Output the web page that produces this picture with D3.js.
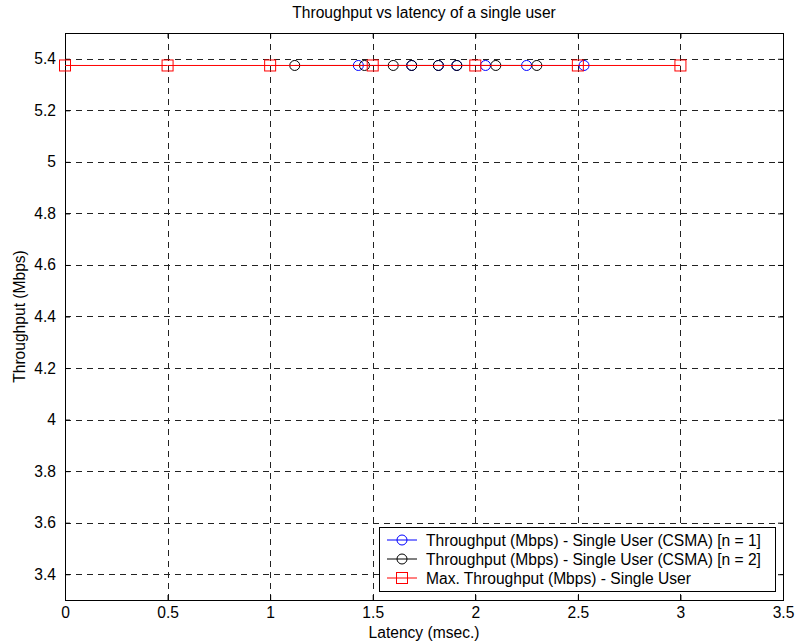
<!DOCTYPE html>
<html>
<head>
<meta charset="utf-8">
<script src="https://cdn.jsdelivr.net/npm/d3@7"></script>
<style>
  html, body { margin: 0; padding: 0; background: #fff; }
  svg { display: block; font-family: "Liberation Sans", Arial, sans-serif; }
</style>
</head>
<body>
<svg id="chart" width="796" height="644"></svg>
<script>
// Latency (msec.) of each run and the measured throughput (Mbps)
const latencyN1 = [1.43, 1.69, 1.82, 1.91, 2.05, 2.25, 2.53];
const throughputN1 = [5.374, 5.374, 5.374, 5.374, 5.374, 5.374, 5.374];
const latencyN2 = [1.12, 1.46, 1.60, 1.69, 1.82, 1.91, 2.10, 2.30];
const throughputN2 = [5.374, 5.374, 5.374, 5.374, 5.374, 5.374, 5.374, 5.374];
const latencyMax = [0, 0.5, 1, 1.5, 2, 2.5, 3];
const throughputMax = [5.374, 5.374, 5.374, 5.374, 5.374, 5.374, 5.374];

const xTicks = [0, 0.5, 1, 1.5, 2, 2.5, 3, 3.5];
const yTicks = [3.4, 3.6, 3.8, 4, 4.2, 4.4, 4.6, 4.8, 5, 5.2, 5.4];
const seriesNames = [
  "Throughput (Mbps) - Single User (CSMA) [n = 1]",
  "Throughput (Mbps) - Single User (CSMA) [n = 2]",
  "Max. Throughput (Mbps) - Single User"
];

const svg = d3.select("#chart");
const plotL = 65, plotR = 783, plotT = 33, plotB = 600;
const x = d3.scaleLinear().domain([0, 3.5]).range([plotL, plotR]);
const y = d3.scaleLinear().domain([3.3, 5.5]).range([plotB, plotT]);
const fontSize = 15.6;

// grid
const grid = svg.append("g").attr("stroke", "#222").attr("stroke-width", 1)
  .attr("stroke-dasharray", "6,5").attr("shape-rendering", "crispEdges");
xTicks.filter(v => v > 0 && v < 3.5).forEach(v => {
  grid.append("line").attr("x1", Math.round(x(v)) + 0.5).attr("x2", Math.round(x(v)) + 0.5)
    .attr("y1", plotT).attr("y2", plotB);
});
yTicks.forEach(v => {
  grid.append("line").attr("y1", Math.round(y(v)) + 0.5).attr("y2", Math.round(y(v)) + 0.5)
    .attr("x1", plotL).attr("x2", plotR);
});

// axes with inward ticks
const fmt = d => String(d);
const xAxis = d3.axisBottom(x).tickValues(xTicks).tickFormat(fmt).tickSizeInner(-5).tickSizeOuter(0).tickPadding(7);
const yAxis = d3.axisLeft(y).tickValues(yTicks).tickFormat(fmt).tickSizeInner(-5).tickSizeOuter(0).tickPadding(9);
const xTop = d3.axisTop(x).tickValues(xTicks).tickFormat("").tickSizeInner(-5).tickSizeOuter(0);
const yRight = d3.axisRight(y).tickValues(yTicks).tickFormat("").tickSizeInner(-5).tickSizeOuter(0);

function styleAxis(g) {
  g.select(".domain").remove();
  g.selectAll("text").attr("font-size", fontSize).attr("fill", "#000")
    .attr("font-family", "Liberation Sans, Arial, sans-serif");
  g.selectAll("line").attr("stroke", "#000");
}
svg.append("g").attr("transform", `translate(0,${plotB})`).call(xAxis).call(styleAxis);
svg.append("g").attr("transform", `translate(${plotL},0)`).call(yAxis).call(styleAxis);
svg.append("g").attr("transform", `translate(0,${plotT})`).call(xTop).call(styleAxis);
svg.append("g").attr("transform", `translate(${plotR},0)`).call(yRight).call(styleAxis);

// frame
svg.append("rect").attr("x", plotL + 0.5).attr("y", plotT + 0.5)
  .attr("width", plotR - plotL).attr("height", plotB - plotT)
  .attr("fill", "none").attr("stroke", "#000").attr("stroke-width", 1)
  .attr("shape-rendering", "crispEdges");

// series
const series = [
  { xs: latencyN1, ys: throughputN1, color: "#0000ff", marker: "circle" },
  { xs: latencyN2, ys: throughputN2, color: "#000000", marker: "circle" },
  { xs: latencyMax, ys: throughputMax, color: "#ff0000", marker: "square" }
];
const line = d3.line().x(d => x(d[0])).y(d => y(d[1]));

function drawMarker(g, cx, cy, s) {
  if (s.marker === "circle") {
    g.append("circle").attr("cx", cx).attr("cy", cy).attr("r", 5)
      .attr("fill", "none").attr("stroke", s.color).attr("stroke-width", 1);
  } else {
    g.append("rect").attr("x", cx - 5.5).attr("y", cy - 5.5).attr("width", 11).attr("height", 11)
      .attr("fill", "none").attr("stroke", s.color).attr("stroke-width", 1);
  }
}

series.forEach(s => {
  const pts = s.xs.map((v, i) => [v, s.ys[i]]);
  const g = svg.append("g");
  g.append("path").attr("d", line(pts)).attr("fill", "none")
    .attr("stroke", s.color).attr("stroke-width", 1);
  pts.forEach(p => drawMarker(g, x(p[0]), y(p[1]), s));
});

// title and axis labels
svg.append("text").attr("x", (plotL + plotR) / 2).attr("y", 18).attr("text-anchor", "middle")
  .attr("font-size", fontSize).text("Throughput vs latency of a single user");
svg.append("text").attr("x", (plotL + plotR) / 2).attr("y", 638).attr("text-anchor", "middle")
  .attr("font-size", fontSize).text("Latency (msec.)");
svg.append("text").attr("transform", `translate(25,${(plotT + plotB) / 2}) rotate(-90)`)
  .attr("text-anchor", "middle").attr("font-size", fontSize).text("Throughput (Mbps)");

// legend
const lg = svg.append("g");
lg.append("rect").attr("x", 379.5).attr("y", 527.5).attr("width", 396).attr("height", 64)
  .attr("fill", "#fff").attr("stroke", "#000").attr("stroke-width", 1);
series.forEach((s, i) => {
  const ry = 540 + i * 19;
  lg.append("line").attr("x1", 387).attr("x2", 417).attr("y1", ry).attr("y2", ry)
    .attr("stroke", s.color).attr("stroke-width", 1);
  drawMarker(lg, 402, ry, s);
  lg.append("text").attr("x", 426).attr("y", ry + 5.5).attr("font-size", fontSize)
    .text(seriesNames[i]);
});
</script>
</body>
</html>
